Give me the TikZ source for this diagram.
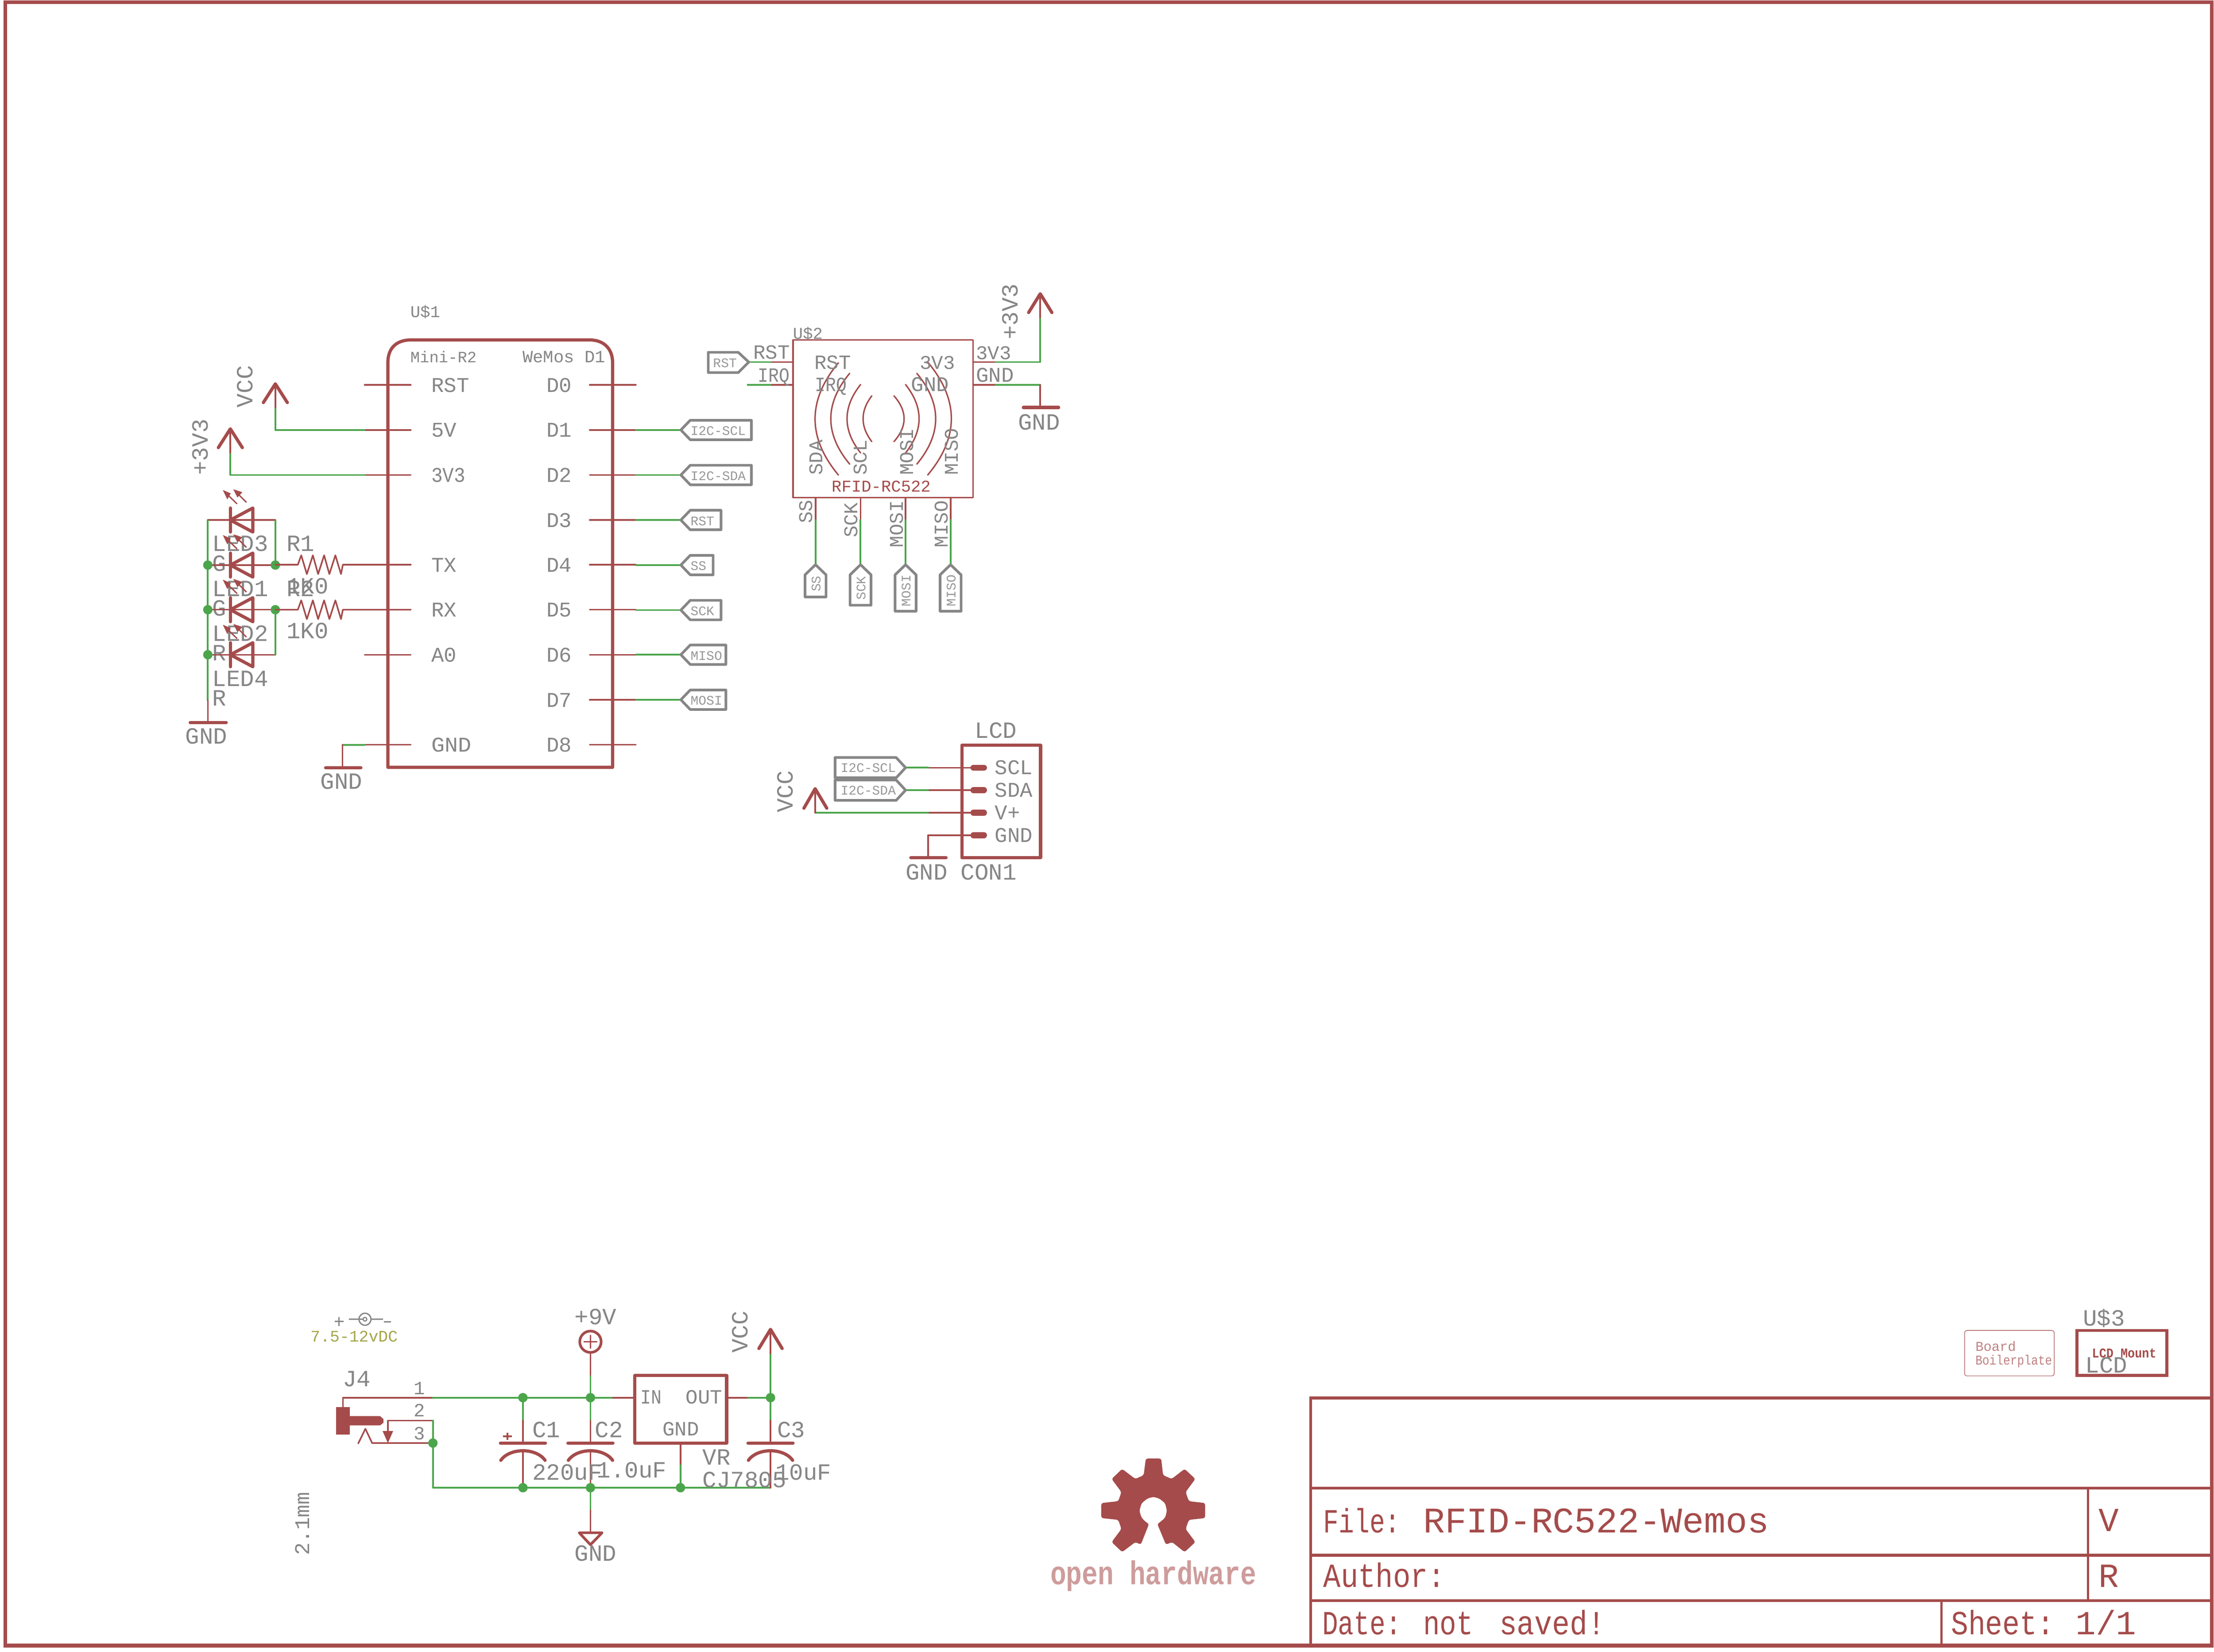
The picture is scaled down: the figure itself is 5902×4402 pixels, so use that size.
\documentclass[tikz,border=0pt]{standalone}
\usepackage{fontspec}
\setmainfont{Liberation Mono}
\definecolor{er}{HTML}{A54B4B}
\definecolor{eg}{HTML}{4BA54B}
\definecolor{egr}{HTML}{868686}
\definecolor{eo}{HTML}{A5A54B}
\tikzset{
  txt/.style={anchor=base west,inner sep=0pt,outer sep=0pt,text=egr},
  rtxt/.style={txt,text=er},
  rot/.style={rotate=90},
  wr/.style={draw=er,line width=.42pt,line cap=round,line join=round},
  wg/.style={draw=eg,line width=.46pt,line cap=round,line join=round},
  hv/.style={draw=er,line width=.85pt,line cap=round,line join=round},
  frm/.style={draw=er,line width=1pt,line cap=rect},
  frt/.style={draw=er,line width=.8pt,line cap=rect},
  flag/.style={draw=egr,line width=.7pt,line join=round},
  dotn/.style={circle,fill=eg,inner sep=0pt,minimum size=2.5pt},
  thin arc/.style={draw=er,line width=.38pt,line cap=round}
}
\newcommand{\T}[5][]{\node[txt,#1] (#2) at (#3) {\fontsize{#4}{#4}\selectfont #5};}
\newcommand{\Gnd}[4]{% x, y, half-left, half-right
  \draw[hv] (#1-#3,#2) -- (#1+#4,#2);}
\newcommand{\Vcc}[3]{% x, tip y, half width
  \draw[hv] (#1-#3,#2+50) -- (#1,#2) -- (#1+#3,#2+50);
  \draw[wr] (#1,#2) -- (#1,#2+63);}
\begin{document}
\begin{tikzpicture}[x=0.1pt,y=-0.1pt]
\useasboundingbox (0,0) rectangle (5902,4402);
\fill[white] (0,0) rectangle (5902,4402);

% ---------- sheet frame and title block
\draw[frm] (14,6) rectangle (5896,4386);
\draw[frt] (3494,4386) -- (3494,3726) -- (5896,3726);
\draw[frt] (3494,3966) -- (5896,3966);
\draw[frt] (3494,4145) -- (5896,4145);
\draw[frt] (3494,4266) -- (5896,4266);
\draw[er,line width=.6pt] (5566,3966) -- (5566,4266);
\draw[er,line width=.6pt] (5175,4266) -- (5175,4386);
\T[rtxt,xscale=.76]{tFile}{3528,4085}{9}{File:}
\T[rtxt]{tFileN}{3794,4085}{9.6}{RFID-RC522-Wemos}
\T[rtxt]{tV}{5595,4081}{9}{V}
\T[rtxt,xscale=.86]{tAuthor}{3528,4230}{9}{Author:}
\T[rtxt]{tR}{5595,4230}{9}{R}
\T[rtxt,xscale=.78]{tDate}{3525,4356}{9}{Date:}
\T[rtxt,xscale=.82]{tDateA}{3794,4356}{9}{not}
\T[rtxt,xscale=.87]{tDateB}{3997,4356}{9}{saved!}
\T[rtxt,xscale=.85]{tSheet}{5201,4356}{9}{Sheet:}
\T[rtxt]{tSheetN}{5533,4356}{9}{1/1}

% ---------- U$1
\draw[hv] (1034,2045) -- (1034,966) .. controls (1034,925) and (1060,906) .. (1095,906)
  -- (1572,906) .. controls (1610,906) and (1633,930) .. (1633,966) -- (1633,2045) -- cycle;
\foreach \yy in {1026,1146,1266,1505,1625,1745,1985} \draw[wr] (972,\yy) -- (1095,\yy);
\foreach \yy in {1026,1146,1266,1386,1505,1625,1745,1865,1985} \draw[wr] (1572,\yy) -- (1695,\yy);
\T{u1}{1094,846}{4.4}{U\$1}
\T{u1a}{1094,966}{4.2}{Mini-R2}
\T{u1b}{1393,966}{4.6}{WeMos D1}
\T{pRST}{1150,1045}{5.6}{RST}
\T{p5V}{1150,1165}{5.6}{5V}
\T[xscale=.9]{p3V3}{1150,1285}{5.6}{3V3}
\T{pTX}{1150,1524}{5.6}{TX}
\T{pRX}{1150,1644}{5.6}{RX}
\T{pA0}{1150,1764}{5.6}{A0}
\T[xscale=1.06]{pGND}{1150,2004}{5.6}{GND}
\T{pD0}{1457,1045}{5.6}{D0}
\T{pD1}{1457,1165}{5.6}{D1}
\T{pD2}{1457,1285}{5.6}{D2}
\T{pD3}{1457,1405}{5.6}{D3}
\T{pD4}{1457,1524}{5.6}{D4}
\T{pD5}{1457,1644}{5.6}{D5}
\T{pD6}{1457,1764}{5.6}{D6}
\T{pD7}{1457,1884}{5.6}{D7}
\T{pD8}{1457,2004}{5.6}{D8}

% supply VCC / +3V3 on U$1
\coordinate (pin5V) at (972,1146);
\coordinate (pin3V) at (972,1266);
\coordinate (pinGND) at (972,1985);
\draw[wg] (pin5V) -- (734,1146) -- (734,1086);
\Vcc{734}{1023}{32}
\T[rot]{vcc1}{674,1086}{6.2}{VCC}
\draw[wg] (pin3V) -- (614,1266) -- (614,1205);
\Vcc{614}{1143}{32}
\T[rot]{v33a}{554,1266}{6.2}{+3V3}
\draw[wg] (pinGND) -- (913,1985);
\draw[wr] (913,1985) -- (913,2046);
\Gnd{915}{2046}{47}{47}
\T{gnd1}{854,2103}{6.2}{GND}

% flags on the right of U$1
\foreach \yy/\ww/\lab in {1146/163/I2C-SCL,1266/163/I2C-SDA,1386/82/RST,1506/61/SS,1626/82/SCK,1745/95/MISO,1865/95/MOSI}{
  \draw[wg] (1695,\yy) -- (1815,\yy);
  \draw[flag] (1815,\yy) -- ++(25,-26) -- ++(\ww,0) -- ++(0,52) -- ++(-\ww,0) -- cycle;
  \node[txt,text=egr!85!white] (fl\yy) at (1841,\yy+14) {\fontsize{3.5}{3.5}\selectfont \lab};
}

% ---------- LEDs
\foreach \yy/\lname/\lcol/\ly/\cy in {1386/LED3/G/1469/1522,1506/LED1/G/1589/1641,1625/LED2/R/1709/1761,1745/LED4/R/1829/1881}{
  \draw[wr] (554,\yy) -- (734,\yy);
  \draw[hv] (614,\yy-32) -- (614,\yy+32);
  \draw[hv] (614,\yy) -- (674,\yy-32) -- (674,\yy+32) -- cycle;
  \draw[er,line width=.35pt] (632,\yy-43) -- (600,\yy-74);
  \fill[er] (594,\yy-80) -- (615,\yy-71) -- (606,\yy-55) -- cycle;
  \draw[er,line width=.35pt] (657,\yy-47) -- (628,\yy-76);
  \fill[er] (622,\yy-82) -- (646,\yy-74) -- (633,\yy-60) -- cycle;
  \T{\lname}{566,\ly}{6.2}{\lname}
  \T{c\lname}{566,\cy}{6.2}{\lcol}
}
\draw[wg] (554,1386) -- (554,1866);
\draw[wr] (554,1866) -- (554,1926);
\Gnd{554}{1926}{47}{49}
\T{gnd2}{494,1982}{6.2}{GND}
\draw[wg] (734,1386) -- (734,1506);
\draw[wg] (734,1625) -- (734,1745);
\foreach \nm/\xx/\yy in {a/554/1506,b/554/1625,c/554/1745,d/734/1506,e/734/1625}
  \node[dotn] (j\nm) at (\xx,\yy) {};

% resistors
\foreach \yy in {1505,1625}{
  \draw[wr] (734,\yy) -- (794,\yy) -- (803,\yy-25) -- (818,\yy+25) -- (834,\yy-25) -- (848,\yy+25) -- (864,\yy-25) -- (878,\yy+25) -- (894,\yy-25) -- (909,\yy+25) -- (914,\yy) -- (1095,\yy);
}
\T{R1}{764,1469}{6.2}{R1}
\T{R1v}{764,1582}{6.2}{1K0}
\T{R2}{764,1589}{6.2}{R2}
\T{R2v}{764,1702}{6.2}{1K0}

% ---------- U$2 (RFID-RC522)
\draw[wr] (2114,906) rectangle (2594,1326);
\T{u2}{2114,904}{4.4}{U\$2}
\T[rtxt]{rfid}{2217,1311}{4.4}{RFID-RC522}
\foreach \xa/\cx/\ya/\yb in {2235/2152/967/1266,2265/2198/995/1237,2294/2246/1025/1207,2324/2293/1055/1177,2383/2419/1055/1177,2414/2462/1025/1207,2444/2511/995/1237,2473/2557/965/1266}
  \draw[thin arc] (\xa,\ya) .. controls (\cx,{\ya+(\yb-\ya)/3}) and (\cx,{\ya+2*(\yb-\ya)/3}) .. (\xa,\yb);
\draw[wr] (2114,965) -- (2054,965); \draw[wg] (2054,965) -- (1997,965);
\draw[wr] (2114,1026) -- (2054,1026); \draw[wg] (2054,1026) -- (1993,1026);
\draw[flag] (1996,965) -- ++(-28,-26) -- ++(-80,0) -- ++(0,54) -- ++(80,0) -- cycle;
\T[text=egr!85!white]{frst}{1901,979}{3.5}{RST}
\T{oRST}{2008,957}{5.4}{RST}
\T[xscale=.87]{oIRQ}{2020,1018}{5.4}{IRQ}
\T{iRST}{2171,984}{5.4}{RST}
\T[xscale=.87]{iIRQ}{2173,1043}{5.4}{IRQ}
\T{i3V3}{2452,984}{5.2}{3V3}
\T{iGND}{2429,1043}{5.6}{GND}
\T{o3V3}{2602,958}{5.2}{3V3}
\T{oGND}{2602,1018}{5.6}{GND}
\T[rot]{iSDA}{2192,1266}{5.2}{SDA}
\T[rot]{iSCL}{2311,1266}{5.2}{SCL}
\T[rot]{iMOSI}{2434,1266}{5.2}{MOSI}
\T[rot]{iMISO}{2554,1266}{5.2}{MISO}
\T[rot]{oSS}{2166,1395}{5.2}{SS}
\T[rot]{oSCK}{2286,1433}{5.2}{SCK}
\T[rot]{oMOSI}{2407,1459}{5.2}{MOSI}
\T[rot]{oMISO}{2527,1459}{5.2}{MISO}
\foreach \xx/\hh/\lab/\by in {2174/59/SS/1577,2294/81/SCK/1599,2414/97/MOSI/1616,2534/97/MISO/1616}{
  \draw[wr] (\xx,1326) -- (\xx,1386);
  \draw[wg] (\xx,1386) -- (\xx,1505);
  \draw[flag] (\xx,1505) -- ++(-28,27) -- ++(0,\hh) -- ++(56,0) -- ++(0,-\hh) -- cycle;
  \node[txt,rotate=90,text=egr!85!white] (fv\xx) at (\xx+13,\by) {\fontsize{3.5}{3.5}\selectfont \lab};
}
\draw[wr] (2594,965) -- (2654,965);
\draw[wg] (2654,965) -- (2773,965) -- (2773,847);
\Vcc{2773}{783}{31}
\T[rot]{v33b}{2713,905}{6.2}{+3V3}
\draw[wr] (2594,1026) -- (2654,1026);
\draw[wg] (2654,1026) -- (2773,1026);
\draw[wr] (2773,1026) -- (2773,1086);
\Gnd{2775}{1086}{47}{47}
\T{gnd3}{2714,1145}{6.2}{GND}

% ---------- LCD connector
\draw[hv] (2564,1986) rectangle (2774,2286);
\T{lcdT}{2599,1967}{6.2}{LCD}
\T{con1}{2561,2345}{6.2}{CON1}
\foreach \yy in {2046,2106,2166,2226}{
  \draw[wr] (2474,\yy) -- (2600,\yy);
  \draw[er,line width=1.6pt,line cap=round] (2595,\yy) -- (2623,\yy);
}
\T{lSCL}{2652,2064}{5.6}{SCL}
\T{lSDA}{2652,2124}{5.6}{SDA}
\T{lVp}{2652,2184}{5.6}{V+}
\T{lGND}{2652,2244}{5.6}{GND}
\foreach \yy/\lab in {2046/I2C-SCL,2106/I2C-SDA}{
  \draw[wg] (2414,\yy) -- (2474,\yy);
  \draw[flag] (2414,\yy) -- ++(-25,-27) -- ++(-163,0) -- ++(0,54) -- ++(163,0) -- cycle;
  \node[txt,text=egr!85!white] (lf\yy) at (2241,\yy+12) {\fontsize{3.5}{3.5}\selectfont \lab};
}
\draw[wg] (2474,2166) -- (2173,2166);
\draw[hv] (2143,2154) -- (2173,2102) -- (2204,2154);
\draw[wr] (2173,2102) -- (2173,2166);
\T[rot]{vcc2}{2113,2166}{6.2}{VCC}
\draw[wr] (2474,2226) -- (2474,2286);
\Gnd{2475}{2286}{47}{47}
\T{gnd4}{2414,2345}{6.2}{GND}

% ---------- power section
\T{j4}{914,3695}{6.2}{J4}
\T{n1}{1103,3716}{5}{1}
\T{n2}{1103,3776}{5}{2}
\T{n3}{1103,3837}{5}{3}
\fill[er] (896,3750) rectangle (933,3823);
\fill[er] (930,3774) -- (1013,3774) -- (1022,3782) -- (1022,3792) -- (1013,3799) -- (930,3799) -- cycle;
\draw[wr] (914,3750) -- (914,3725) -- (1154,3725);
\draw[wg] (1154,3725) -- (1634,3725);
\draw[wr] (1634,3725) -- (1692,3725);
\draw[wr] (1154,3786) -- (1034,3786) -- (1034,3820);
\fill[er] (1020,3814) -- (1048,3814) -- (1034,3846) -- cycle;
\draw[wr] (955,3847) -- (974,3808) -- (992,3846) -- (1154,3846);
\draw[wg] (1154,3786) -- (1154,3965) -- (2054,3965);
% capacitors
\foreach \xx/\nm in {1394/C1,1574/C2,2054/C3}{
  \draw[wg] (\xx,3725) -- (\xx,3786);
  \draw[wr] (\xx,3786) -- (\xx,3846);
  \draw[hv] (\xx-60,3846) -- (\xx+60,3846);
  \draw[hv] (\xx-59,3892) .. controls (\xx-35,3858) and (\xx+35,3858) .. (\xx+59,3892);
  \draw[wr] (\xx,3867) -- (\xx,3965);
}
\draw[er,line width=.5pt] (1341,3828) -- (1364,3828) (1353,3818) -- (1353,3838);
\T{C1}{1419,3831}{6.2}{C1}
\T{C2}{1586,3831}{6.2}{C2}
\T{C3}{2072,3831}{6.2}{C3}
\T{C1v}{1419,3944}{6.2}{220uF}
\T{C2v}{1591,3938}{6.2}{1.0uF}
\T{C3v}{2067,3944}{6.2}{10uF}
% +9V
\draw[wg] (1574,3725) -- (1574,3665);
\draw[wr] (1574,3665) -- (1574,3605);
\node[circle,draw=er,line width=.7pt,inner sep=0pt,minimum size=5.7pt] (sup9) at (1574,3576) {};
\draw[er,line width=.4pt,line cap=round] (1557,3576) -- (1591,3576) (1574,3559) -- (1574,3593);
\T{t9V}{1532,3530}{6.2}{+9V}
% GND
\draw[wg] (1574,3965) -- (1574,4025);
\draw[wr] (1574,4025) -- (1574,4085);
\draw[er,line width=.7pt,line join=round] (1544,4085) -- (1605,4085) -- (1574,4117) -- cycle;
\T{gnd5}{1532,4160}{6.2}{GND}
% regulator
\draw[hv] (1692,3666) rectangle (1937,3846);
\T[xscale=.87]{rIN}{1708,3741}{5.4}{IN}
\T{rOUT}{1828,3741}{5.4}{OUT}
\T{rGND}{1766,3826}{5.4}{GND}
\T{VR}{1873,3904}{6.2}{VR}
\T{CJ}{1873,3964}{6.2}{CJ7805}
\draw[wr] (1937,3725) -- (1994,3725);
\draw[wg] (1994,3725) -- (2054,3725);
\draw[wr] (1814,3846) -- (1814,3905);
\draw[wg] (1814,3905) -- (1814,3965);
% VCC
\draw[wg] (2054,3725) -- (2054,3607);
\draw[wr] (2054,3607) -- (2054,3543);
\draw[hv] (2023,3594) -- (2054,3543) -- (2085,3594);
\T[rot]{vcc3}{1993,3606}{6.2}{VCC}
\foreach \nm/\xx/\yy in {k/1394/3725,l/1574/3725,m/2054/3725,n/1154/3846,o/1394/3965,p/1574/3965,q/1814/3965}
  \node[dotn] (j\nm) at (\xx,\yy) {};
% jack icon
\draw[egr,line width=.35pt] (904,3510) -- (904,3534) (892,3522) -- (916,3522);
\draw[egr,line width=.35pt] (930,3516) -- (968,3516) (990,3516) -- (1021,3516) (1023,3523) -- (1042,3523);
\node[circle,draw=egr,line width=.35pt,inner sep=0pt,minimum size=3.2pt] (ic1) at (973,3516) {};
\node[circle,draw=egr,line width=.3pt,inner sep=0pt,minimum size=1pt] (ic2) at (973,3516) {};
\T[text=eo]{dc}{828,3576}{4.3}{7.5-12vDC}
\T[rot]{mm}{824,4145}{5.6}{2.1mm}

% ---------- logo
\begin{scope}[shift={(2800,3800)},x=0.03827pt,y=-0.03333pt]
\fill[er,rounded corners=.5pt] (665,262) -- (772,262) -- (785,395) -- (845,425) -- (935,345) -- (1010,425) -- (942,530) -- (965,603) -- (1078,618) -- (1078,738) -- (965,752) -- (942,825) -- (1010,930) -- (935,1010) -- (848,930) -- (805,950) -- (745,785) -- (760,775) -- (800,735) -- (812,680) -- (800,620) -- (760,582) -- (717,568) -- (675,582) -- (635,620) -- (620,680) -- (635,735) -- (665,770) -- (687,785) -- (630,950) -- (592,930) -- (500,1010) -- (427,930) -- (495,825) -- (473,752) -- (355,738) -- (355,618) -- (473,603) -- (495,530) -- (427,425) -- (500,345) -- (592,425) -- (650,395) -- cycle;
\end{scope}
\node[txt,text=er!55!white,xscale=.8] (ohw) at (2800,4223) {\fontsize{8.8}{8.8}\selectfont\bfseries open hardware};

% ---------- U$3 and board boilerplate
\draw[er,line width=.8pt] (5537,3546) rectangle (5776,3666);
\T{u3}{5553,3533}{6.2}{U\$3}
\T[rtxt,xscale=.88]{lcdm}{5577,3618}{3.6}{\bfseries LCD Mount}
\T{lcd2}{5559,3659}{6.2}{LCD}
\draw[er!75!white,line width=.2pt,rounded corners=.6pt] (5237,3546) rectangle (5476,3667);
\T[text=er!70!white]{bb1}{5266,3601}{3.6}{Board}
\T[text=er!70!white,xscale=.86]{bb2}{5266,3637}{3.6}{Boilerplate}
\end{tikzpicture}
\end{document}
